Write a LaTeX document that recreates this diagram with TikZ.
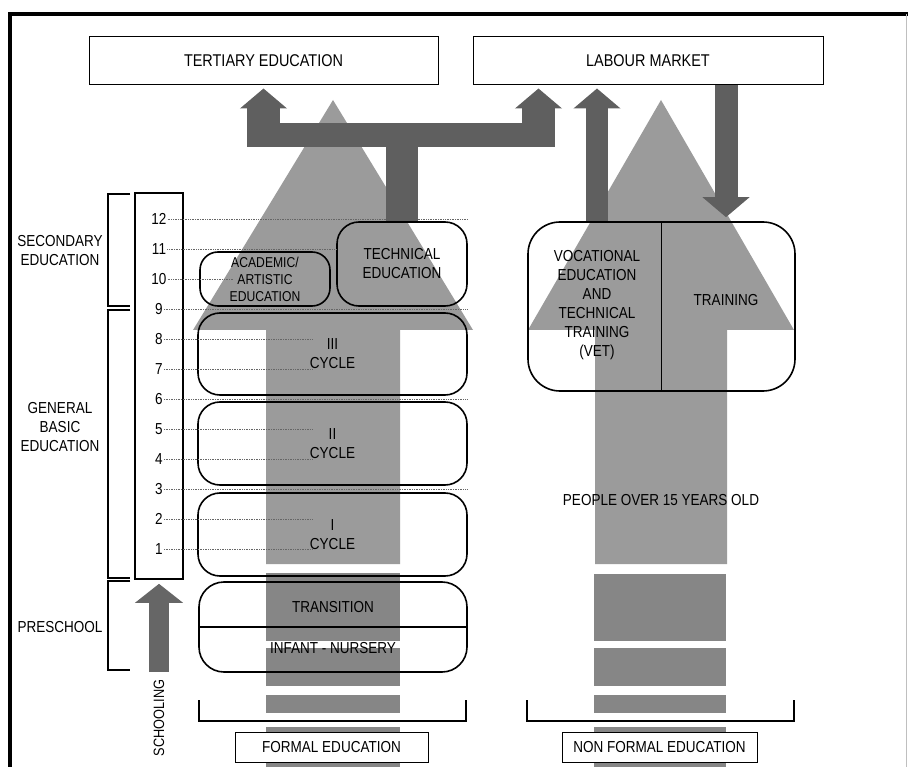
\documentclass[tikz,border=0pt]{standalone}
\usepackage{fontspec}
\setmainfont{Liberation Sans}[FakeStretch=0.85]
\usetikzlibrary{arrows.meta}

\definecolor{lightarrow}{HTML}{9B9B9B}
\definecolor{darkarrow}{HTML}{5F5F5F}
\definecolor{blockgray}{HTML}{868686}

\tikzset{
  stage/.style={draw,line width=1.6pt,rounded corners=22pt,inner sep=0pt,align=center},
  topbox/.style={draw,line width=1pt,fill=white,inner sep=0pt,minimum height=48pt,font=\fontsize{17}{19}\selectfont},
  footbox/.style={draw,line width=1pt,fill=white,inner sep=0pt,minimum height=30pt},
  gridline/.style={densely dotted,line width=0.7pt,black!60},
  bracket/.style={line width=1.8pt},
  flow/.style={line width=33pt,darkarrow,-{Triangle[length=20pt,width=46pt]}},
}

\begin{document}
\begin{tikzpicture}[x=1pt,y=-1pt,font=\fontsize{15.9}{19}\selectfont]
    \useasboundingbox (0,0) rectangle (908,767);
    \draw[line width=3.5pt] (10,767) -- (10,14) -- (908,14);
    \draw[black!25] (906,14) -- (906,767);
    %
    \node[topbox,minimum width=349pt] (tertiary) at (263.5,61) {TERTIARY EDUCATION};
    \node[topbox,minimum width=350pt] (labour) at (648,61) {LABOUR MARKET};
    %
    \fill[lightarrow] (266,564) -- (266,330) -- (193,330) -- (333,100) -- (473,330) -- (400,330) -- (400,564) -- cycle;
    \fill[lightarrow] (595,564) -- (595,330) -- (528,330) -- (661,100) -- (794,330) -- (727,330) -- (727,564) -- cycle;
    \fill[blockgray] (266,573) rectangle (400,641);
    \fill[blockgray] (266,648) rectangle (400,686);
    \fill[blockgray] (266,695) rectangle (400,713);
    \fill[blockgray] (266,727) rectangle (400,767);
    \fill[blockgray] (594,574) rectangle (726,641);
    \fill[blockgray] (594,648) rectangle (726,686);
    \fill[blockgray] (594,695) rectangle (726,713);
    \fill[blockgray] (594,727) rectangle (726,767);
    %
    \node[draw,line width=1.6pt,minimum width=48pt,minimum height=386pt] (scale) at (159,386) {};
    \node[inner sep=1pt] (g12) at (159,219) {12};
    \node[inner sep=1pt] (g11) at (159,249) {11};
    \node[inner sep=1pt] (g10) at (159,279) {10};
    \node[inner sep=1pt] (g9) at (159,309) {9};
    \node[inner sep=1pt] (g8) at (159,339) {8};
    \node[inner sep=1pt] (g7) at (159,369) {7};
    \node[inner sep=1pt] (g6) at (159,399) {6};
    \node[inner sep=1pt] (g5) at (159,429) {5};
    \node[inner sep=1pt] (g4) at (159,459) {4};
    \node[inner sep=1pt] (g3) at (159,489) {3};
    \node[inner sep=1pt] (g2) at (159,519) {2};
    \node[inner sep=1pt] (g1) at (159,549) {1};
    %
    \node[stage,rounded corners=18pt,minimum width=130pt,minimum height=54pt,font=\fontsize{14.3}{17}\selectfont] (acad) at (265,279) {ACADEMIC/\\ARTISTIC\\EDUCATION};
    \node[stage,minimum width=130pt,minimum height=84pt] (tech) at (402,264) {TECHNICAL\\EDUCATION};
    \node[stage,minimum width=269pt,minimum height=82pt] (cyc3) at (332.5,354) {III\\CYCLE};
    \node[stage,minimum width=269pt,minimum height=83pt] (cyc2) at (332.5,443.5) {II\\CYCLE};
    \node[stage,minimum width=269pt,minimum height=83pt] (cyc1) at (332.5,534.5) {I\\CYCLE};
    \node[stage,rounded corners=25pt,minimum width=268pt,minimum height=90pt] (pre) at (333,627) {};
    \draw[line width=1.6pt] (pre.west) -- (pre.east);
    \node (transition) at (333,607) {TRANSITION};
    \node (infant) at (333,648) {INFANT - NURSERY};
    %
    \draw[gridline] (g12.east) -- (tech.east |- g12);
    \draw[gridline] (g11.east) -- (tech.west |- g11);
    \draw[gridline] (g10.east) -- (233,279);
    \draw[gridline] (g9.east) -- (tech.east |- g9);
    \draw[gridline] (g8.east) -- (312,339);
    \draw[gridline] (g7.east) -- (312,369);
    \draw[gridline] (g6.east) -- (tech.east |- g6);
    \draw[gridline] (g5.east) -- (312,429);
    \draw[gridline] (g4.east) -- (312,459);
    \draw[gridline] (g3.east) -- (tech.east |- g3);
    \draw[gridline] (g2.east) -- (312,519);
    \draw[gridline] (g1.east) -- (312,549);
    %
    \node[stage,rounded corners=32pt,minimum width=267pt,minimum height=169pt] (nfbox) at (661.5,306.5) {};
    \draw[line width=1.6pt] (nfbox.north) -- (nfbox.south);
    \node[align=center] (vet) at (597,305) {VOCATIONAL\\EDUCATION\\AND\\TECHNICAL\\TRAINING\\(VET)};
    \node (training) at (726,300) {TRAINING};
    \node (people) at (661,500) {PEOPLE OVER 15 YEARS OLD};
    %
    \coordinate (leftup) at (263.5,147);
    \coordinate (rightup) at (538.5,147);
    \fill[darkarrow] (247,123) rectangle (555,147);
    \draw[darkarrow,line width=32pt] (tech.north) -- (tech.north |- leftup);
    \draw[flow,shorten >=3pt] (leftup) -- (leftup |- tertiary.south);
    \draw[flow,shorten >=3pt] (rightup) -- (rightup |- labour.south);
    \draw[flow,line width=22pt,shorten >=3pt] (nfbox.north -| vet) -- (labour.south -| vet);
    \draw[flow,line width=23pt,shorten >=4pt] (labour.south -| training) -- (nfbox.north -| training);
    %
    \coordinate (schoolbase) at (159,672);
    \draw[line width=20pt,black!60,-{Triangle[length=19pt,width=47pt]},shorten >=4pt] (schoolbase) -- (scale.south);
    \node[rotate=90,font=\fontsize{15}{17}\selectfont] (schooling) at (159,718) {SCHOOLING};
    %
    \draw[bracket] (130,194) -- (108,194) -- (108,306) -- (130,306);
    \draw[bracket] (130,310) -- (108,310) -- (108,578) -- (130,578);
    \draw[bracket] (130,581) -- (108,581) -- (108,670) -- (130,670);
    \node[align=center] (secondary) at (60,251) {SECONDARY\\EDUCATION};
    \node[align=center] (general) at (60,427) {GENERAL\\BASIC\\EDUCATION};
    \node (preschool) at (60,627) {PRESCHOOL};
    %
    \draw[bracket] (199,700) -- (199,721) -- (466,721) -- (466,700);
    \draw[bracket] (527,700) -- (527,721) -- (794,721) -- (794,700);
    \node[footbox,minimum width=193pt] (formal) at (331.5,747) {FORMAL EDUCATION};
    \node[footbox,minimum width=195pt] (nonformal) at (659.5,747) {NON FORMAL EDUCATION};
\end{tikzpicture}
\end{document}
